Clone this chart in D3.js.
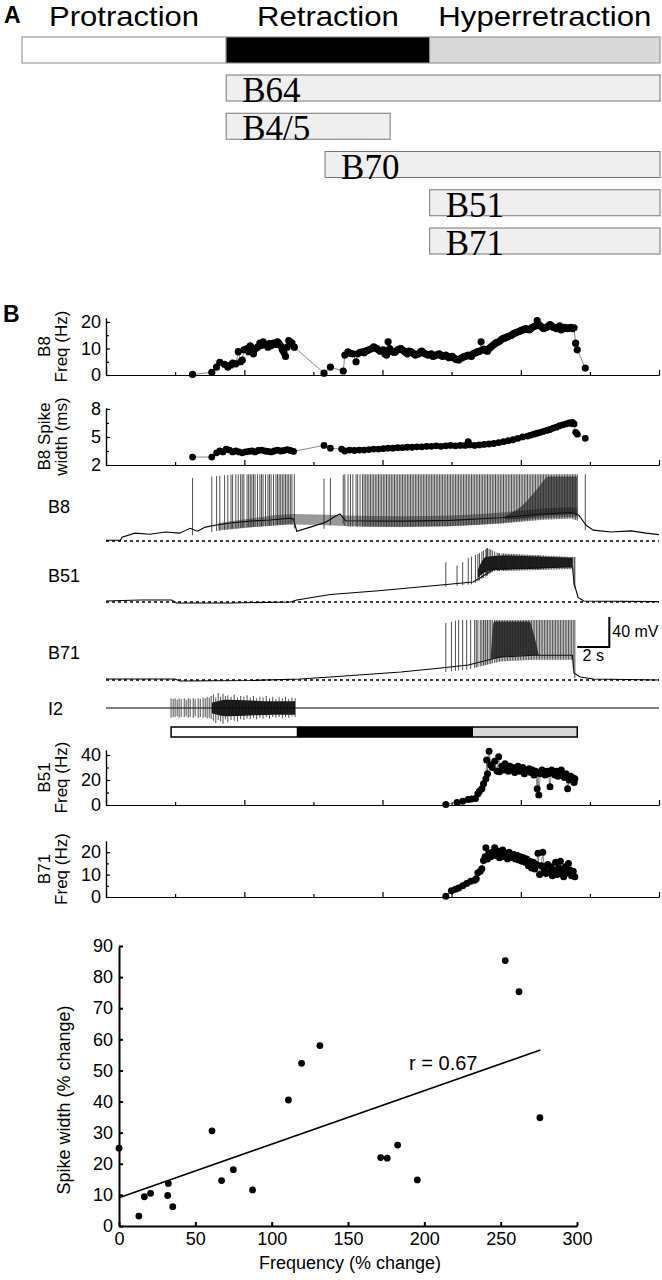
<!DOCTYPE html>
<html>
<head>
<meta charset="utf-8">
<script src="https://cdn.jsdelivr.net/npm/d3@7"></script>
<style>
body { margin: 0; background: #fff; }
svg { display: block; font-family: "Liberation Sans", Arial, sans-serif; }
</style>
</head>
<body>
<svg id="fig" width="662" height="1280"></svg>
<script>
// ---------- Panel A data ----------
const phaseNames = ['Protraction', 'Retraction', 'Hyperretraction'];
const phaseEdgesA = [0, 32, 63.9, 100];            // % of cycle
const neuronNames = ['B64', 'B4/5', 'B70', 'B51', 'B71'];
const neuronStart = [32, 32, 47.5, 63.9, 63.9];
const neuronEnd = [100, 57.7, 100, 100, 100];

// ---------- Panel B data (time in s) ----------
const phaseEdgesB = [4.06, 11.9, 22.9, 29.4];
const xMajorTicks = [0, 8.63, 17.25, 25.88, 34.5];
const xMinorTicks = [4.31, 12.94, 21.56, 30.19];

// B8 instantaneous frequency [t, Hz]
const b8Freq = [
  [5.4,0.2],[6.6,1.0],[6.9,3.0],[7.1,4.8],[7.4,4.0],[7.6,3.0],[7.8,3.8],[7.9,4.5],[8.1,4.2],[8.25,8.8],
  [8.4,5.0],[8.5,5.6],[8.6,9.5],[8.8,10.0],[8.9,8.8],[9.0,11.0],[9.1,10.2],[9.2,8.0],[9.3,9.8],[9.45,10.5],
  [9.6,12.0],[9.7,11.2],[9.8,12.5],[9.95,11.5],[10.1,10.5],[10.2,11.8],[10.3,11.0],[10.45,12.0],[10.6,11.5],[10.7,12.5],
  [10.8,11.8],[10.9,11.0],[11.0,9.5],[11.1,8.5],[11.2,7.0],[11.3,10.5],[11.4,13.0],[11.5,12.5],[11.6,12.0],[11.75,10.5],
  [13.6,0.7],[14.0,3.0],[14.8,1.5],[14.9,7.5],[15.1,8.7],[15.25,8.2],[15.4,8.0],[15.6,5.0],[15.7,8.0],[15.85,8.5],
  [16.0,8.7],[16.1,8.4],[16.2,9.0],[16.3,9.2],[16.4,9.5],[16.5,9.8],[16.6,10.0],[16.7,10.6],[16.8,10.2],[16.9,10.0],
  [17.0,9.4],[17.1,9.0],[17.2,9.3],[17.3,9.5],[17.4,8.0],[17.5,7.5],[17.6,12.5],[17.7,10.0],[17.8,9.0],[17.9,8.7],
  [18.0,8.5],[18.1,9.0],[18.2,9.5],[18.3,9.8],[18.4,10.0],[18.5,9.4],[18.6,9.0],[18.7,8.5],[18.8,8.0],[18.9,9.0],
  [19.0,8.8],[19.1,8.5],[19.2,8.0],[19.3,7.5],[19.4,7.8],[19.5,8.0],[19.6,8.6],[19.7,9.0],[19.8,8.4],[19.9,8.0],
  [20.0,7.8],[20.1,7.5],[20.2,7.8],[20.3,8.0],[20.4,7.0],[20.5,7.3],[20.6,7.5],[20.7,7.8],[20.8,8.0],[20.9,7.4],
  [21.0,7.0],[21.1,7.3],[21.2,7.5],[21.3,7.0],[21.4,6.5],[21.5,6.8],[21.6,7.0],[21.7,6.5],[21.8,6.0],[21.9,5.8],
  [22.0,5.7],[22.1,6.2],[22.2,6.5],[22.3,6.8],[22.4,7.0],[22.5,7.2],[22.6,7.5],[22.7,7.3],[22.8,7.0],[22.9,8.0],
  [23.0,8.3],[23.1,8.5],[23.2,8.8],[23.3,9.0],[23.4,12.5],[23.5,9.5],[23.6,9.8],[23.7,9.2],[23.8,9.0],[23.9,10.0],
  [24.0,10.5],[24.1,11.0],[24.2,11.5],[24.3,12.0],[24.4,12.3],[24.5,12.5],[24.6,13.0],[24.7,13.5],[24.8,13.8],[24.9,14.0],
  [25.0,14.3],[25.1,14.5],[25.2,14.8],[25.3,15.0],[25.4,15.5],[25.5,15.8],[25.6,16.0],[25.7,16.3],[25.8,16.5],[25.9,16.8],
  [26.0,17.0],[26.1,17.3],[26.2,17.5],[26.3,17.2],[26.4,17.0],[26.5,17.5],[26.6,18.0],[26.7,18.3],[26.8,18.5],[26.9,20.5],
  [27.0,19.0],[27.1,18.5],[27.2,18.0],[27.3,17.5],[27.4,17.8],[27.5,18.0],[27.6,18.5],[27.7,19.0],[27.8,18.5],[27.9,18.0],
  [28.0,17.8],[28.1,17.5],[28.2,18.0],[28.3,18.5],[28.4,17.0],[28.5,17.5],[28.6,18.0],[28.7,17.8],[28.8,17.5],[28.9,17.8],
  [29.0,18.0],[29.1,17.5],[29.2,17.8],[29.3,12.0],[29.4,9.5],[29.9,2.6]
];

// B8 spike width [t, ms]
const b8Width = [
  [5.4,2.85],[6.6,2.85],[6.9,3.3],[7.1,3.5],[7.3,3.4],[7.5,3.7],[7.7,3.6],[7.9,3.4],[8.1,3.5],[8.3,3.4],
  [8.5,3.3],[8.7,3.4],[8.9,3.45],[9.1,3.5],[9.3,3.4],[9.5,3.55],[9.7,3.6],[9.9,3.5],[10.1,3.45],[10.3,3.4],
  [10.5,3.5],[10.7,3.6],[10.9,3.5],[11.1,3.55],[11.3,3.65],[11.5,3.55],[11.7,3.45],
  [13.6,4.1],[14.0,3.8],[14.7,3.7],[14.9,3.5],[15.2,3.6],[15.5,3.55],[15.8,3.6],[16.1,3.6],[16.4,3.65],
  [16.7,3.7],[17.0,3.7],[17.3,3.75],[17.6,3.8],[17.9,3.8],[18.2,3.85],[18.5,3.85],[18.8,3.9],[19.1,3.9],[19.4,3.95],
  [19.7,3.95],[20.0,4.0],[20.3,4.0],[20.6,4.05],[20.9,4.0],[21.2,4.05],[21.5,4.1],[21.8,4.05],[22.1,4.1],[22.4,4.1],
  [22.6,4.5],[22.7,4.15],[23.0,4.1],[23.3,4.15],[23.6,4.2],[23.9,4.25],[24.2,4.3],[24.5,4.4],[24.8,4.5],[25.1,4.6],
  [25.4,4.7],[25.7,4.85],[26.0,5.0],[26.3,5.1],[26.5,5.2],[26.7,5.3],[26.9,5.4],[27.1,5.5],[27.3,5.6],[27.5,5.7],
  [27.7,5.8],[27.9,5.95],[28.1,6.05],[28.3,6.2],[28.5,6.3],[28.7,6.4],[28.9,6.5],[29.0,6.45],[29.1,6.55],[29.2,6.4],
  [29.3,5.5],[29.4,5.3],[29.9,4.85]
];

// B51 frequency [t, Hz]
const b51Freq = [
  [21.2,0.5],[21.9,2.0],[22.25,3.0],[22.6,4.5],[22.8,4.8],[23.05,5.3],[23.2,9.0],[23.3,11.0],[23.45,13.0],[23.55,17.0],
  [23.7,21.0],[23.75,36.0],[23.8,25.0],[23.9,43.0],[24.0,32.0],[24.1,30.0],[24.25,35.0],[24.4,27.0],[24.5,38.7],[24.55,26.7],
  [24.7,31],[24.8,28],[24.9,33],[25.0,29],[25.1,27],[25.2,31],[25.3,28],[25.4,30],[25.5,26],[25.6,29],
  [25.7,31],[25.8,27],[25.9,28],[26.0,30],[26.1,25],[26.2,28],[26.3,27],[26.4,29],[26.5,26],[26.6,28],
  [26.7,24],[26.8,27],[26.9,13],[26.95,26],[27.0,8],[27.1,25],[27.2,28],[27.3,26],[27.4,24],[27.5,27],
  [27.6,25],[27.7,14.7],[27.8,28],[27.9,26],[28.0,24],[28.1,27],[28.2,23],[28.3,26],[28.4,28],[28.5,24],
  [28.6,22],[28.7,25],[28.8,13],[28.9,20],[29.0,23],[29.1,22],[29.2,18],[29.25,21]
];

// B71 frequency [t, Hz]
const b71Freq = [
  [21.2,0.3],[21.55,2.8],[21.8,3.5],[22.0,4.0],[22.25,5.0],[22.5,6.0],[22.75,7.0],[23.0,7.5],[23.1,8.2],[23.2,10.8],
  [23.35,11.5],[23.45,12.6],[23.55,16.3],[23.65,18],[23.7,22],[23.8,17],[23.9,19.5],[24.0,18],[24.1,20],[24.25,22],
  [24.35,18.5],[24.45,20.5],[24.55,17.5],[24.65,19.5],[24.75,21],[24.85,18],[24.95,19.5],[25.05,17],[25.15,20],[25.25,18.5],
  [25.35,17.5],[25.45,19],[25.55,17],[25.65,18.5],[25.75,16.5],[25.85,18],[25.95,16],[26.05,17.5],[26.15,15.5],[26.25,17],
  [26.35,14],[26.45,16],[26.55,13],[26.65,15.5],[26.75,12.5],[26.85,14.5],[26.95,19.5],[27.05,10],[27.15,14],[27.25,20],
  [27.35,12],[27.45,10.5],[27.55,14.5],[27.65,11],[27.75,13.5],[27.85,9.5],[27.95,12],[28.05,15.5],[28.15,10],[28.25,13],
  [28.35,16],[28.45,11],[28.55,9],[28.65,13.5],[28.75,10.5],[28.85,15],[28.95,12],[29.05,9.5],[29.15,11.5],[29.25,9]
];

// Intracellular traces: membrane level knots [t, mV above rest], spike peak knots, dense-firing envelopes [t, lo, hi]
const b8Knots = [[0,1],[0.9,1],[1.0,5],[1.8,10.5],[2.75,9],[3.7,12],[4.6,10.5],[5.0,14.5],[5.25,17],[5.7,13],[6.2,18.5],
  [6.8,21],[7.75,24],[9.0,26.5],[10.25,28],[11.5,30.5],[11.7,29],[11.9,13],[12.75,18.5],[13.7,25],[14.3,33],[14.6,36],
  [14.95,27],[18.4,26.5],[21.5,27.5],[24.6,31],[27.1,36],[29.0,38],[29.5,34.5],[29.95,21],[30.4,14.5],[31.5,12],
  [32.75,13.5],[33.7,10.5],[34.5,8.5]];
const b8Peaks = [[5.4,84],[6.6,86],[8,89],[11.8,89],[13.5,83],[14.2,84],[14.9,89],[29.9,89]];
const b8Band = [[7.0,14,24],[9.0,18,30],[11.7,22,36],[14.95,20,34],[18.4,19,33],[21.5,20,34],[24.6,24,38],[27.1,30,43],[29.0,32,45],[29.4,31,43]];
const b8Wedge = [[24.9,29,33],[26.0,30,48],[27.0,33,72],[27.6,34,86],[29.4,36,86]];

const b51Knots = [[0,1.3],[2.1,2.7],[4.1,2.7],[4.4,-1.3],[7.75,-1.3],[11.5,0],[11.9,2.7],[14,10],[17,15],[20.9,22.7],
  [22.9,26.7],[23.4,33],[24.2,44],[26,45],[29.1,47],[29.2,25],[29.45,6],[29.8,1.3],[34.5,0.5]];
const b51Peaks = [[21.2,53],[22.0,48],[22.5,58],[23.2,64],[23.8,72],[24.5,65],[29.1,60]];
const b51Band = [[23.2,32,43],[23.7,40,60],[24.6,43,62],[26.5,44,61],[29.1,47,59]];

const b71Knots = [[0,1.3],[4.3,1.3],[4.6,-1.3],[9,-0.7],[12.1,1.3],[14,4],[18.4,10.7],[20.9,16],[22.6,20],[24.6,30.7],
  [26.7,33],[29.1,33],[29.2,9],[29.6,4],[30.4,1.3],[34.5,0]];
const b71Peaks = [[21.2,76],[22,80],[29.25,80]];
const b71Wedge = [[24.0,28,28],[24.2,29,78],[26.4,33,78],[26.7,33,60],[27.0,33,33]];

// I2 extracellular units [t, up, down]
const i2Units = [
  [4.06,13,-13],[4.19,12,-12],[4.31,13,-12],[4.44,11,-11],[4.56,13,-13],[4.69,12,-12],[4.88,13,-12],[5.0,11,-11],
  [5.13,13,-13],[5.25,12,-12],[5.44,13,-13],[5.56,12,-11],[5.75,13,-13],[5.88,12,-12],[6.06,14,-13],[6.19,13,-12],
  [6.31,15,-14],[6.44,14,-13],[6.56,16,-15],[6.7,18,-17],[6.85,14,-20],[7.0,20,-16],[7.15,15,-18],[7.3,19,-21],
  [7.45,16,-15],[7.6,17,-19],[7.8,15,-16],[8.0,18,-17],[8.2,14,-18],[8.4,16,-15],[8.6,15,-16],[8.8,17,-14],
  [9.0,14,-15],[9.2,16,-13],[9.4,13,-15],[9.6,15,-13],[9.8,14,-14],[10.0,16,-12],[10.2,13,-14],[10.4,15,-12],
  [10.6,12,-13],[10.8,14,-12],[11.0,13,-14],[11.2,15,-12],[11.4,12,-13],[11.6,14,-11],[11.8,13,-12]
];
const i2Band = [[6.6,-7,7],[7.5,-11,11],[9.0,-10,10],[10.5,-9,9],[11.8,-9,9]];

// ---------- Scatter data ----------
const freqChange = [0, 13, 16.6, 20.7, 32.3, 31.9, 35.2, 60.9, 67.2, 74.9, 87.5, 111, 119.6, 131.6, 171.4, 175.7, 182.5, 195.4, 253, 262, 275.7];
const widthChange = [25, 3.2, 9.4, 10.5, 13.7, 9.8, 6.2, 30.6, 14.6, 18.1, 11.6, 40.5, 52.3, 58, 22, 21.8, 26, 14.8, 85.3, 75.3, 34.8];
const fitIntercept = 9.1, fitSlope = 0.172, fitRange = [0, 276];

const svg = d3.select('#fig');

// ---------- Panel A ----------
(function () {
    const xA = d3.scaleLinear().domain([0, 100]).range([22, 660]);
    const fills = ['#fff', '#000', '#d9d9d9'];
    const labelWidths = [150, 142, 213];

    svg.append('text').attr('x', 4).attr('y', 23).attr('font-weight', 'bold').style('font-size', '23px').text('A');

    phaseNames.forEach((name, i) => {
        svg.append('rect')
            .attr('x', xA(phaseEdgesA[i])).attr('y', 37)
            .attr('width', xA(phaseEdgesA[i + 1]) - xA(phaseEdgesA[i])).attr('height', 26)
            .attr('fill', fills[i]).attr('stroke', '#888').attr('stroke-width', 1);
        svg.append('text')
            .attr('x', (xA(phaseEdgesA[i]) + xA(phaseEdgesA[i + 1])) / 2).attr('y', 26)
            .attr('text-anchor', 'middle').style('font-size', '28px')
            .attr('textLength', labelWidths[i]).attr('lengthAdjust', 'spacingAndGlyphs')
            .text(name);
    });

    const row = d3.scalePoint().domain(neuronNames).range([75, 228]);
    neuronNames.forEach((n, i) => {
        svg.append('rect')
            .attr('x', xA(neuronStart[i])).attr('y', row(n))
            .attr('width', xA(neuronEnd[i]) - xA(neuronStart[i])).attr('height', 26)
            .attr('fill', '#efefef').attr('stroke', '#777').attr('stroke-width', 1);
        svg.append('text')
            .attr('x', xA(neuronStart[i]) + 16).attr('y', row(n) + 27)
            .style('font-family', '"Liberation Serif", "Times New Roman", serif')
            .style('font-size', '35px')
            .text(n);
    });
})();

// ---------- Panel B ----------
const x = d3.scaleLinear().domain([0, 34.5]).range([106, 659]);

svg.append('text').attr('x', 3).attr('y', 322).attr('font-weight', 'bold').style('font-size', '23px').text('B');

function styleAxis(g, w) {
    g.selectAll('path, line').attr('stroke', '#000').attr('stroke-width', w);
    g.selectAll('text').attr('fill', '#000').style('font-size', '18px');
}

function freqPanel(o) {
    const y = d3.scaleLinear().domain(o.domain).range([o.bottom, o.top]);
    const g = svg.append('g');

    g.append('g').attr('transform', `translate(0,${o.bottom})`)
        .call(d3.axisBottom(x).tickValues(xMajorTicks).tickSize(-5).tickSizeOuter(0).tickFormat(''))
        .call(a => styleAxis(a, 1.2));
    g.append('g').attr('transform', `translate(0,${o.bottom})`)
        .call(d3.axisBottom(x).tickValues(xMinorTicks).tickSize(-3).tickSizeOuter(0).tickFormat(''))
        .call(a => styleAxis(a, 1.2));
    g.append('g').attr('transform', `translate(${x(0)},0)`)
        .call(d3.axisLeft(y).tickValues(o.major).tickSize(-4).tickSizeOuter(0).tickPadding(5).tickFormat(d3.format('d')))
        .call(a => styleAxis(a, 1.2));
    g.append('g').attr('transform', `translate(${x(0)},0)`)
        .call(d3.axisLeft(y).tickValues(o.minor).tickSize(-3).tickSizeOuter(0).tickFormat(''))
        .call(a => styleAxis(a, 1.2));

    g.append('path').datum(o.data)
        .attr('d', d3.line().x(d => x(d[0])).y(d => y(d[1])))
        .attr('fill', 'none').attr('stroke', '#555').attr('stroke-width', 0.7);
    g.selectAll('circle').data(o.data).join('circle')
        .attr('cx', d => x(d[0])).attr('cy', d => y(d[1]))
        .attr('r', o.r).attr('fill', '#000');

    const mid = (o.top + o.bottom) / 2;
    o.label.forEach((t, i) => {
        g.append('text')
            .attr('transform', `translate(${i ? 67 : 50},${mid}) rotate(-90)`)
            .attr('text-anchor', 'middle').style('font-size', '17px')
            .text(t);
    });
}

freqPanel({ data: b8Freq, domain: [0, 21.5], top: 318, bottom: 375, major: [0, 10, 20], minor: [5, 15], r: 3.6, label: ['B8', 'Freq (Hz)'] });
freqPanel({ data: b8Width, domain: [2, 8.1], top: 408, bottom: 465, major: [2, 5, 8], minor: [3.5, 6.5], r: 3.4, label: ['B8 Spike', 'width (ms)'] });
freqPanel({ data: b51Freq, domain: [0, 44], top: 750, bottom: 805, major: [0, 20, 40], minor: [10, 30], r: 3.5, label: ['B51', 'Freq (Hz)'] });
freqPanel({ data: b71Freq, domain: [0, 25], top: 841, bottom: 897, major: [0, 10, 20], minor: [5, 15], r: 3.5, label: ['B71', 'Freq (Hz)'] });

// Traces
function trace(o) {
    const y = d3.scaleLinear().domain([0, 100]).range([o.rest, o.rest - 75]);
    const level = d3.scaleLinear().domain(o.knots.map(d => d[0])).range(o.knots.map(d => d[1])).clamp(true);
    const g = svg.append('g');

    if (o.dashed) {
        g.append('line').attr('x1', x(0)).attr('x2', x(34.5)).attr('y1', y(0)).attr('y2', y(0))
            .attr('stroke', '#000').attr('stroke-width', 1.5).attr('stroke-dasharray', '3,3');
    }
    const area = d3.area().x(d => x(d[0])).y0(d => y(d[1])).y1(d => y(d[2])).curve(d3.curveMonotoneX);
    (o.bands || []).forEach(b => {
        g.append('path').datum(b.data).attr('d', area).attr('fill', '#000').attr('opacity', b.opacity);
    });
    g.append('path').datum(o.knots)
        .attr('d', d3.line().x(d => x(d[0])).y(d => y(d[1])))
        .attr('fill', 'none').attr('stroke', '#000').attr('stroke-width', 1.1);

    if (o.spikes) {
        const peak = d3.scaleLinear().domain(o.peaks.map(d => d[0])).range(o.peaks.map(d => d[1])).clamp(true);
        g.selectAll('.spk').data(o.spikes).join('line')
            .attr('x1', d => x(d[0])).attr('x2', d => x(d[0]))
            .attr('y1', d => y(level(d[0]) - o.ahp)).attr('y2', d => y(peak(d[0])))
            .attr('stroke', '#222').attr('stroke-width', 0.8);
    }
    if (o.units) {
        g.selectAll('.unit').data(o.units).join('line')
            .attr('x1', d => x(d[0])).attr('x2', d => x(d[0]))
            .attr('y1', d => y(d[2])).attr('y2', d => y(d[1]))
            .attr('stroke', '#222').attr('stroke-width', 0.8);
    }
    g.append('text').attr('x', 48).attr('y', o.rest + o.labelDy).style('font-size', '18px').text(o.name);
    return y;
}

trace({ name: 'B8', rest: 541, labelDy: -28, dashed: true, knots: b8Knots, spikes: b8Freq, peaks: b8Peaks, ahp: 8,
        bands: [{ data: b8Band, opacity: 0.4 }, { data: b8Wedge, opacity: 0.55 }] });
trace({ name: 'B51', rest: 602, labelDy: -20, dashed: true, knots: b51Knots, spikes: b51Freq, peaks: b51Peaks, ahp: 3,
        bands: [{ data: b51Band, opacity: 0.9 }] });
const yB71 = trace({ name: 'B71', rest: 680, labelDy: -21, dashed: true, knots: b71Knots, spikes: b71Freq, peaks: b71Peaks, ahp: 6,
        bands: [{ data: b71Wedge, opacity: 0.75 }] });
trace({ name: 'I2', rest: 708, labelDy: 7, dashed: false, knots: [[0, 0], [34.5, 0]], units: i2Units,
        bands: [{ data: i2Band, opacity: 0.9 }] });

// Scale bar: 2 s, 40 mV
const sbT = [29.4, 31.4], sbV = [44, 84];
svg.append('path')
    .attr('d', `M${x(sbT[0])},${yB71(sbV[0])}H${x(sbT[1])}V${yB71(sbV[1])}`)
    .attr('fill', 'none').attr('stroke', '#000').attr('stroke-width', 2);
svg.append('text').attr('x', x(sbT[1]) + 3).attr('y', yB71(sbV[0]) - 10).style('font-size', '16px').text('40 mV');
svg.append('text').attr('x', (x(sbT[0]) + x(sbT[1])) / 2).attr('y', yB71(sbV[0]) + 14)
    .attr('text-anchor', 'middle').style('font-size', '16px').text('2 s');

// Phase bar under I2
['#fff', '#000', '#d9d9d9'].forEach((c, i) => {
    svg.append('rect')
        .attr('x', x(phaseEdgesB[i])).attr('y', 727)
        .attr('width', x(phaseEdgesB[i + 1]) - x(phaseEdgesB[i])).attr('height', 10)
        .attr('fill', c);
});
svg.append('rect')
    .attr('x', x(phaseEdgesB[0])).attr('y', 727)
    .attr('width', x(phaseEdgesB[3]) - x(phaseEdgesB[0])).attr('height', 10)
    .attr('fill', 'none').attr('stroke', '#000').attr('stroke-width', 1.5);

// ---------- Scatter ----------
(function () {
    const sx = d3.scaleLinear().domain([0, 300]).range([119, 577]);
    const sy = d3.scaleLinear().domain([0, 90]).range([1226, 946]);
    const g = svg.append('g');

    g.append('g').attr('transform', 'translate(0,1226)')
        .call(d3.axisBottom(sx).tickValues(d3.range(0, 301, 50)).tickSize(-4).tickSizeOuter(0).tickPadding(6))
        .call(a => styleAxis(a, 2));
    g.append('g').attr('transform', 'translate(119,0)')
        .call(d3.axisLeft(sy).tickValues(d3.range(0, 91, 10)).tickSize(-4).tickSizeOuter(0).tickPadding(6))
        .call(a => styleAxis(a, 2));

    g.append('line')
        .attr('x1', sx(fitRange[0])).attr('y1', sy(fitIntercept + fitSlope * fitRange[0]))
        .attr('x2', sx(fitRange[1])).attr('y2', sy(fitIntercept + fitSlope * fitRange[1]))
        .attr('stroke', '#000').attr('stroke-width', 1.5);

    g.selectAll('circle').data(freqChange).join('circle')
        .attr('cx', d => sx(d)).attr('cy', (d, i) => sy(widthChange[i]))
        .attr('r', 3.4).attr('fill', '#000');

    g.append('text').attr('x', sx(190)).attr('y', 1070).style('font-size', '20px').text('r = 0.67');
    g.append('text').attr('x', 350).attr('y', 1269).attr('text-anchor', 'middle').style('font-size', '18px')
        .text('Frequency (% change)');
    g.append('text').attr('transform', 'translate(70,1100) rotate(-90)').attr('text-anchor', 'middle')
        .style('font-size', '18px').text('Spike width (% change)');
})();
</script>
</body>
</html>
